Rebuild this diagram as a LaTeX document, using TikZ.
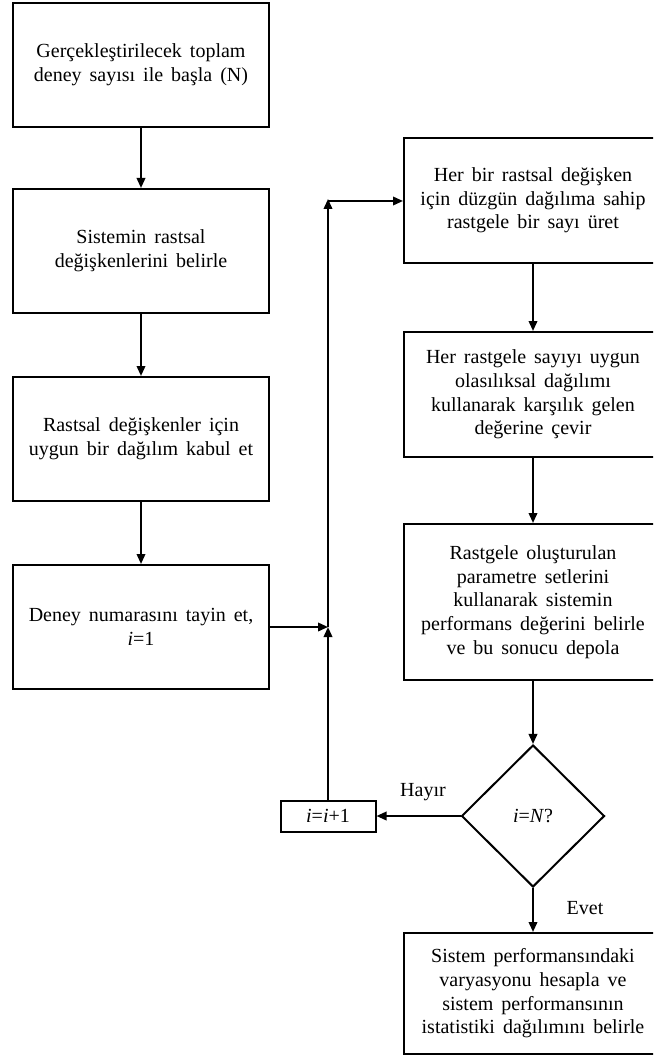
\documentclass[tikz,border=0pt]{standalone}
\usepackage{fontspec}
\setmainfont{Liberation Serif}
\usetikzlibrary{arrows.meta,shapes.geometric}
\newcommand{\flowfont}{\fontsize{20}{23.7}\selectfont\spaceskip=0.4em plus 0.1em\relax}
\begin{document}
\begin{tikzpicture}[x=1pt,y=-1pt,
  txt/.style={font=\flowfont},
  box/.style={txt,draw,line width=2pt,rectangle,inner sep=0pt,align=center},
  tallbox/.style={box,execute at begin node={\rule{0pt}{25pt}}},
  leftbox/.style={tallbox,minimum width=256pt,minimum height=124pt},
  rightbox/.style={tallbox,minimum width=258pt},
  flow/.style={line width=2pt,-{Triangle[length=10pt,width=8.5pt]}}]
\clip (0,0) rectangle (653,1056);

% left column
\node[leftbox] (b1) at (141,65) {Gerçekleştirilecek toplam\\deney sayısı ile başla (N)};
\node[leftbox] (b2) at (141,251) {Sistemin rastsal\\değişkenlerini belirle};
\node[leftbox] (b3) at (141,439) {Rastsal değişkenler için\\uygun bir dağılım kabul et};
\node[leftbox] (b4) at (141,627) {Deney numarasını tayin et,\\\textit{i}=1};

% right column
\node[rightbox,minimum height=125pt] (b5) at (533,200.5) {Her bir rastsal değişken\\için düzgün dağılıma sahip\\rastgele bir sayı üret};
\node[rightbox,minimum height=125pt] (b6) at (533,394.5) {Her rastgele sayıyı uygun\\olasılıksal dağılımı\\kullanarak karşılık gelen\\değerine çevir};
\node[rightbox,minimum height=156pt] (b7) at (533,602) {Rastgele oluşturulan\\parametre setlerini\\kullanarak sistemin\\performans değerini belirle\\ve bu sonucu depola};
\node[txt,draw,line width=2pt,diamond,inner sep=0pt,minimum width=143pt,minimum height=142pt] (dia) at (533,816) {\textit{i}=\textit{N}?};
\node[rightbox,minimum height=121pt] (b8) at (533,993.5) {Sistem performansındaki\\varyasyonu hesapla ve\\sistem performansının\\istatistiki dağılımını belirle};

% loop counter
\node[box,minimum width=95pt,minimum height=31pt] (inc) at (328,816) {\textit{i}=\textit{i}+1};

% branch labels
\node[txt] (no) at (423,792) {Hayır};
\node[txt] (yes) at (585,908) {Evet};

% main flow
\draw[flow] (b1) -- (b2);
\draw[flow] (b2) -- (b3);
\draw[flow] (b3) -- (b4);
\draw[flow] (b5) -- (b6);
\draw[flow] (b6) -- (b7);
\draw[flow] (b7) -- (dia);
\draw[flow] (dia) -- (b8);
\draw[flow] (dia.west) -- (inc.east);

% loop back
\coordinate (j) at (328,627);
\coordinate (c) at (328,199);
\draw[flow] (b4.east) -- (j);
\draw[flow] (inc) -- (j);
\draw[flow] (j) -- (c);
\draw[flow] (328,201) -- (b5.west |- 0,201);
\end{tikzpicture}
\end{document}
